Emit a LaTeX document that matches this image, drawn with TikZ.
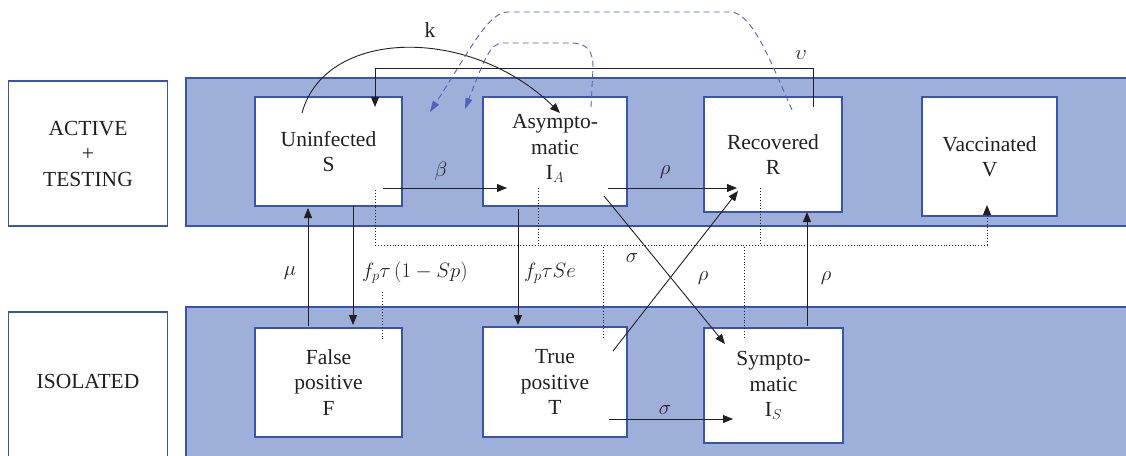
\documentclass[tikz,border=0pt]{standalone}
\usepackage{fontspec}
\setmainfont{Liberation Serif}
\usetikzlibrary{arrows.meta}
\definecolor{bandblue}{RGB}{158,176,218}
\definecolor{edgeblue}{RGB}{55,85,175}
\definecolor{dashblue}{RGB}{80,98,185}
\definecolor{ink}{RGB}{35,31,32}
\begin{document}
\begin{tikzpicture}[x=1pt,y=-1pt,
  every node/.style={font=\fontsize{21.5}{25.5}\selectfont, align=center, inner sep=0pt, outer sep=0pt, text=ink},
  band/.style={fill=bandblue, draw=edgeblue, line width=1.1pt},
  cbox/.style={fill=white, draw=edgeblue, line width=1.1pt},
  arr/.style={draw=ink, line width=0.9pt, -{Triangle[length=10pt,width=8pt]}},
  dotl/.style={draw=ink, line width=0.9pt, dotted},
  dotarr/.style={draw=ink, line width=0.9pt, dotted, -{Triangle[length=10pt,width=8pt]}},
  dasharr/.style={draw=dashblue, line width=0.9pt, dash pattern=on 6pt off 4pt, -{Triangle[length=11pt,width=7pt,fill=dashblue]}},
  lab/.style={font=\fontsize{21.5}{24}\selectfont}
]
\clip (0,0) rectangle (1126,455);
\fill[white] (0,0) rectangle (1126,455);
% bands
\draw[band] (186,78) rectangle (1140,226);
\draw[band] (186,307) rectangle (1140,470);
% left label boxes
\node[cbox, minimum width=159pt, minimum height=145pt] (act) at (88,153.5) {ACTIVE\\+\\TESTING};
\node[cbox, minimum width=159pt, minimum height=160pt] (iso) at (88,392) {};
\node (isolab) at (88,381) {ISOLATED};
% compartments
\node[cbox, minimum width=147pt, minimum height=109pt] (S) at (328.5,151.5) {Uninfected\\S};
\node[cbox, minimum width=144pt, minimum height=109pt] (IA) at (555,151.5) {Asympto-\\matic\\I$_{A}$\rule[-9pt]{0pt}{9pt}};
\node[cbox, minimum width=138pt, minimum height=115pt] (R) at (773,154.5) {Recovered\\R};
\node[cbox, minimum width=135pt, minimum height=119pt] (V) at (989.5,156.5) {Vaccinated\\V};
\node[cbox, minimum width=147pt, minimum height=109pt] (F) at (328.5,382.5) {False\\positive\\F};
\node[cbox, minimum width=144pt, minimum height=110pt] (T) at (555,382) {True\\positive\\T};
\node[cbox, minimum width=139pt, minimum height=115pt] (IS) at (773.5,385.5) {Sympto-\\matic\\I$_{S}$};
% helper coordinates
\coordinate (k0) at (302,113);
\coordinate (k1) at (560,113);
\coordinate (v0) at (813,107);
\coordinate (v1) at (813,68);
\coordinate (v2) at (375,68);
\coordinate (v3) at (375,107);
\coordinate (b0) at (383,188);
\coordinate (b1) at (507,188);
\coordinate (r0) at (608,188);
\coordinate (r1) at (737,188);
\coordinate (m0) at (308,326);
\coordinate (m1) at (308,208);
\coordinate (f0) at (353,206);
\coordinate (f1) at (353,325);
\coordinate (t0) at (518,209);
\coordinate (t1) at (518,325);
\coordinate (s0) at (604,196);
\coordinate (s1) at (725,344);
\coordinate (p0) at (613,351);
\coordinate (p1) at (738,191);
\coordinate (q0) at (807,326);
\coordinate (q1) at (807,212);
\coordinate (u0) at (609,419);
\coordinate (u1) at (733,419);
\coordinate (d0) at (375,190);
\coordinate (d1) at (375,245);
\coordinate (d2) at (987,245);
\coordinate (d3) at (987,205);
\coordinate (e0) at (538,188);
\coordinate (e1) at (538,245);
\coordinate (g0) at (760,188);
\coordinate (g1) at (760,245);
\coordinate (h0) at (603,247);
\coordinate (h1) at (603,338);
\coordinate (j0) at (744,247);
\coordinate (j1) at (744,338);
\coordinate (n0) at (382,292);
\coordinate (n1) at (382,340);
\coordinate (o0) at (792,110);
\coordinate (o1) at (430,112);
\coordinate (i0) at (591,107);
\coordinate (i1) at (465,109);
% arrows
\draw[arr] (k0) .. controls (325,28) and (470,25) .. (k1);
\node[lab] (klab) at (430,30) {k};
\draw[arr] (v0) -- (v1) -- (v2) -- (v3);
\node[lab] (vlab) at (801,55) {$\upsilon$};
\draw[arr] (b0) -- (b1);
\node[lab] (blab) at (441,171) {$\beta$};
\draw[arr] (r0) -- (r1);
\node[lab] (rlab) at (665,172) {$\rho$};
\draw[arr] (m0) -- (m1);
\node[lab] (mlab) at (290,273) {$\mu$};
\draw[arr] (f0) -- (f1);
\node[lab, anchor=west] (flab) at (362,273) {$f_{p}\tau\,(1-Sp)$};
\draw[arr] (t0) -- (t1);
\node[lab, anchor=west] (tlab) at (524,273) {$f_{p}\tau Se$};
\draw[arr] (s0) -- (s1);
\node[lab] (slab) at (632,258) {$\sigma$};
\draw[arr] (p0) -- (p1);
\node[lab] (plab) at (703,278) {$\rho$};
\draw[arr] (q0) -- (q1);
\node[lab] (qlab) at (826,278) {$\rho$};
\draw[arr] (u0) -- (u1);
\node[lab] (ulab) at (665,410) {$\sigma$};
% dotted testing lines
\draw[dotarr] (d0) -- (d1) -- (d2) -- (d3);
\draw[dotl] (e0) -- (e1);
\draw[dotl] (g0) -- (g1);
\draw[dotl] (h0) -- (h1);
\draw[dotl] (j0) -- (j1);
\draw[dotl] (n0) -- (n1);
% dashed blue curves
\draw[dasharr] (o0) .. controls (770,60) and (752,12) .. (730,12) -- (508,12) .. controls (488,12) and (470,50) .. (o1);
\draw[dasharr] (i0) -- (593,68) .. controls (593,50) and (587,43) .. (570,43) -- (503,43) .. controls (490,43) and (484,60) .. (i1);
\end{tikzpicture}
\end{document}
